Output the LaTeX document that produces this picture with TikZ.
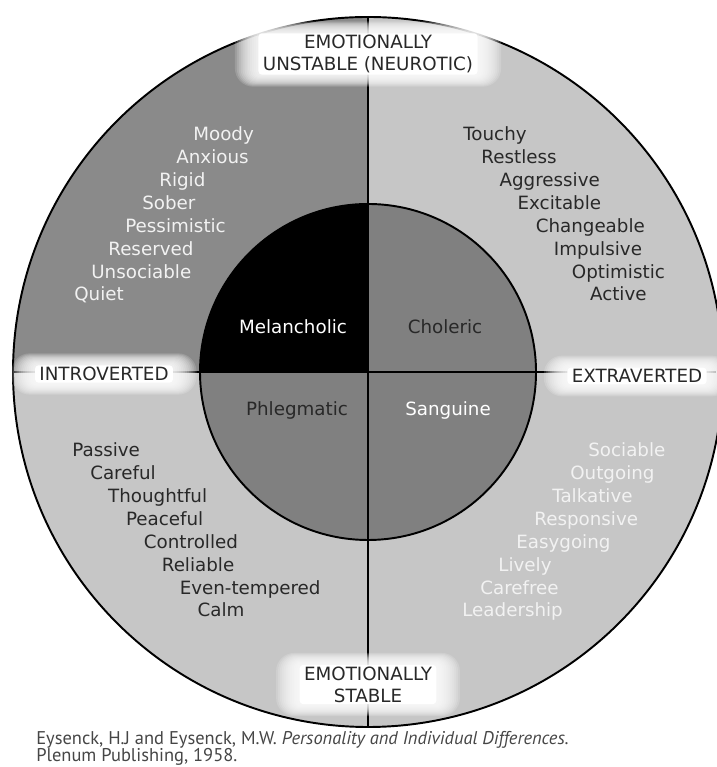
\documentclass[tikz,border=0pt]{standalone}
\usepackage{fontspec}
\setmainfont{DejaVu Sans}
\newfontfamily\citefont{PT Sans}
\definecolor{darkq}{RGB}{138,138,138}
\definecolor{lightq}{RGB}{198,198,198}
\definecolor{midq}{RGB}{128,128,128}
\definecolor{inkdark}{RGB}{40,40,40}
\definecolor{inklight}{RGB}{242,242,242}
\definecolor{citegray}{RGB}{70,70,70}
\pgfdeclarelayer{back}
\pgfdeclarelayer{halo}
\pgfsetlayers{back,halo,main}
\tikzset{
  trait/.style={anchor=base west, inner sep=0pt, font=\fontsize{10.4}{12}\selectfont},
  temper/.style={inner sep=0pt, font=\fontsize{10.4}{12}\selectfont},
  axislabel/.style={fill=white, rounded corners=2pt, inner xsep=2.5pt, inner ysep=1pt, align=center,
    text=inkdark, font=\fontsize{10.4}{12.5}\selectfont},
  citetext/.style={anchor=base west, inner sep=0pt, text=citegray, font=\citefont\fontsize{10.5}{11}\selectfont}
}
\newcommand{\glowaround}[1]{%
  \begin{pgfonlayer}{halo}
    \foreach \k in {1,...,12}
      \fill[white, opacity=0.16, rounded corners=2pt+\k*0.7pt]
        ([shift={(-\k*1.1pt,-\k*0.55pt)}]#1.south west) rectangle ([shift={(\k*1.1pt,\k*0.55pt)}]#1.north east);
  \end{pgfonlayer}}

\begin{document}
\begin{tikzpicture}
\useasboundingbox (0,0) rectangle (14.32,15.34);
\coordinate (c) at (7.36,7.90);
\coordinate (n) at (7.36,15.00);
\coordinate (s) at (7.36,0.80);
\coordinate (w) at (0.26,7.90);
\coordinate (e) at (14.32,7.90);

\begin{pgfonlayer}{back}
  \fill[lightq] (c) circle (7.10);
  \fill[darkq] (c) -- ++(-7.10,0) arc (180:90:7.10) -- cycle;
  \fill[midq] (c) circle (3.36);
  \fill[black] (c) -- ++(-3.36,0) arc (180:90:3.36) -- cycle;
  \draw[line width=1.1pt] (c) circle (7.10);
  \draw[line width=1.1pt] (c) circle (3.36);
  \draw[line width=1.1pt] (n) -- (s);
  \draw[line width=1.1pt] (w) -- (e);
\end{pgfonlayer}

% the four tempers
\node[temper, text=white] (mel) at (5.86,8.80) {Melancholic};
\node[temper, text=inkdark] (cho) at (8.90,8.80) {Choleric};
\node[temper, text=inkdark] (phl) at (5.94,7.14) {Phlegmatic};
\node[temper, text=white] (san) at (8.96,7.14) {Sanguine};

% traits
\foreach \w [count=\i] in {Moody,Anxious,Rigid,Sober,Pessimistic,Reserved,Unsociable,Quiet}
  \node[trait, text=inklight] (ul\i) at ({3.86-0.34*(\i-1)},{12.52-0.457*(\i-1)}) {\w};
\foreach \w [count=\i] in {Touchy,Restless,Aggressive,Excitable,Changeable,Impulsive,Optimistic,Active}
  \node[trait, text=inkdark] (ur\i) at ({9.26+0.362*(\i-1)},{12.52-0.457*(\i-1)}) {\w};
\foreach \w [count=\i] in {Passive,Careful,Thoughtful,Peaceful,Controlled,Reliable,Even-tempered,Calm}
  \node[trait, text=inkdark] (ll\i) at ({1.44+0.358*(\i-1)},{6.20-0.457*(\i-1)}) {\w};
\foreach \w [count=\i] in {Sociable,Outgoing,Talkative,Responsive,Easygoing,Lively,Carefree,Leadership}
  \node[trait, text=inklight] (lr\i) at ({11.76-0.36*(\i-1)},{6.20-0.457*(\i-1)}) {\w};

% axes
\node[axislabel] (neuro) at (7.36,14.26) {EMOTIONALLY\\UNSTABLE (NEUROTIC)};
\node[axislabel] (stable) at (7.36,1.65) {EMOTIONALLY\\STABLE};
\node[axislabel] (intro) at (2.08,7.86) {INTROVERTED};
\node[axislabel] (extra) at (12.74,7.82) {EXTRAVERTED};
\glowaround{neuro}
\glowaround{stable}
\glowaround{intro}
\glowaround{extra}

\node[citetext] (cite1) at (0.72,0.44) {Eysenck, H.J and Eysenck, M.W. \textit{Personality and Individual Differences.}};
\node[citetext] (cite2) at ([yshift=-9.4pt]cite1.base west) {Plenum Publishing, 1958.};
\end{tikzpicture}
\end{document}
